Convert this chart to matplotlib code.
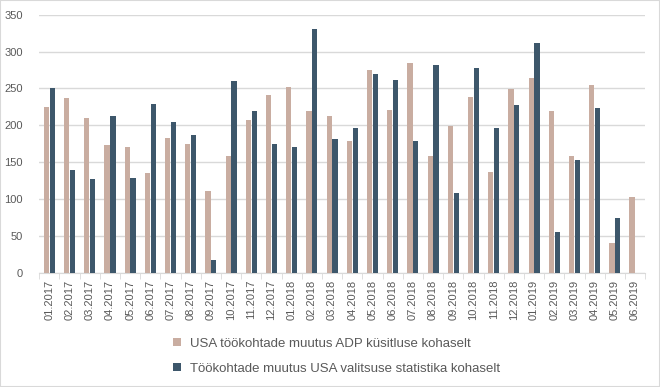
import numpy as np
import matplotlib.pyplot as plt
from matplotlib.patches import Rectangle

plt.rcParams['font.family'] = ['Liberation Sans', 'DejaVu Sans']

months = ['01.2017', '02.2017', '03.2017', '04.2017', '05.2017', '06.2017',
          '07.2017', '08.2017', '09.2017', '10.2017', '11.2017', '12.2017',
          '01.2018', '02.2018', '03.2018', '04.2018', '05.2018', '06.2018',
          '07.2018', '08.2018', '09.2018', '10.2018', '11.2018', '12.2018',
          '01.2019', '02.2019', '03.2019', '04.2019', '05.2019', '06.2019']

# ADP survey change in jobs (thousands)
adp = [225, 237, 210, 173, 170, 135, 183, 175, 111, 158, 207, 241,
       252, 219, 212, 179, 275, 221, 284, 158, 199, 238, 137, 249,
       264, 219, 158, 255, 41, 103]

# government statistics (no value yet for 06.2019)
bls = [251, 140, 127, 212, 128, 229, 204, 187, 18, 260, 219, 175,
       170, 331, 181, 196, 270, 261, 179, 282, 108, 278, 196, 227,
       312, 56, 153, 223, 75, np.nan]

adp_label = 'USA töökohtade muutus ADP küsitluse kohaselt'
bls_label = 'Töökohtade muutus USA valitsuse statistika kohaselt'

adp_color = '#C9ADA1'
bls_color = '#3D576B'
text_color = '#595959'
grid_color = '#D9D9D9'

fig = plt.figure(figsize=(6.6, 3.87), dpi=100)
ax = fig.add_axes([0.0595, 0.295, 0.918, 0.667])

x = np.arange(len(months))
w = 0.26
ax.bar(x - 0.145, adp, width=w, color=adp_color, label=adp_label, zorder=3)
ax.bar(x + 0.145, bls, width=w, color=bls_color, label=bls_label, zorder=3)

ax.set_xlim(-0.5, len(months) - 0.5)
ax.set_ylim(0, 350)
ax.set_yticks(range(0, 351, 50))
ax.yaxis.grid(True, color=grid_color, linewidth=1, zorder=0)
ax.set_axisbelow(True)

ax.set_xticks(x)
ax.set_xticklabels(months, rotation=90, fontsize=8, color=text_color)
ax.set_xticks(np.arange(-0.5, len(months)), minor=True)
ax.tick_params(axis='x', which='major', length=0, pad=5)
ax.tick_params(axis='x', which='minor', length=4, color=grid_color)
ax.tick_params(axis='y', length=0, labelsize=8, labelcolor=text_color, pad=12)

for s in ['top', 'right', 'left']:
    ax.spines[s].set_visible(False)
ax.spines['bottom'].set_color(grid_color)

fig.legend(loc='lower center', bbox_to_anchor=(0.51, 0.0), ncol=1, frameon=False,
           fontsize=9.5, labelcolor=text_color, handlelength=0.55, handleheight=0.55,
           handletextpad=0.7, labelspacing=1.0)

fig.patches.append(Rectangle((0, 0), 1, 1, transform=fig.transFigure, fill=False,
                             edgecolor=grid_color, linewidth=1.5))

fig.savefig('out.png', dpi=100)
